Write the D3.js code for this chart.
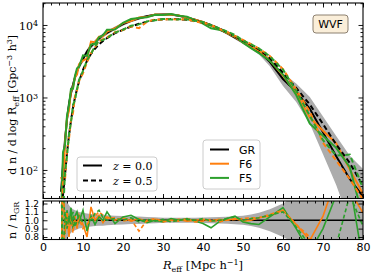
<!DOCTYPE html>
<html>
<head>
<meta charset="utf-8">
<title>Void size function</title>
<script src="https://d3js.org/d3.v7.min.js"></script>
<style>
  body { margin: 0; background: #fff; }
  svg { display: block; }
  text { font-family: "DejaVu Sans", sans-serif; fill: #000; }
  .serif { font-family: "DejaVu Serif", serif; }
</style>
</head>
<body>
<div id="chart"></div>
<script>
// bin centres [Mpc/h]
var rEff = [4.5, 5, 5.5, 6, 6.5, 7, 7.5, 8, 8.5, 9, 10, 11, 12, 13, 14, 15, 16, 18, 20, 22, 24, 26, 28, 30,
            32, 34, 36, 38, 40, 42, 44, 46, 48, 50, 52, 54, 56.7, 60, 63.3, 66.7, 70, 73.3, 76.7, 80];

// dn/dlogR  [Gpc^-3 h^3]
var grZ0 = [50, 110, 260, 500, 820, 1150, 1500, 1900, 2300, 2700, 3400, 4300, 5100, 5800, 6500, 7200, 7800, 9000,
            10300, 11400, 12400, 13200, 13800, 14000, 13900, 13400, 12700, 11800, 10900, 9900, 8800, 7700, 6700,
            5800, 5000, 4300, 3100, 1800, 1200, 700, 330, 155, 75, 43];
var grZ5 = [20, 45, 85, 170, 300, 480, 720, 1000, 1300, 1650, 2400, 3200, 4000, 4700, 5400, 6000, 6600, 7700,
            8600, 9500, 10400, 11100, 11700, 12000, 12100, 12000, 11800, 11400, 10800, 10000, 9000, 8000, 7000,
            6100, 5300, 4600, 3500, 2200, 1350, 800, 430, 225, 125, 60];
var f6Z0 = [80, 66, 234, 525, 656, 1242, 1380, 1900, 2070, 2862, 3230, 3440, 5916, 5800, 6890, 6984, 8112, 9000,
            10609, 11286, 12648, 12936, 13938, 13860, 13900, 13534, 12573, 11800, 11009, 9801, 8888, 7700, 6834,
            5742, 5000, 4429, 3255, 2016, 1140, 532, 347, 233, 101, 47];
var f6Z5 = [8, 68, 72, 187, 270, 480, 612, 1050, 1235, 1683, 2160, 3040, 4080, 4935, 5940, 6360, 6732, 7931,
            8514, 9595, 9048, 11100, 11934, 11760, 12100, 11880, 12036, 11172, 10692, 10100, 8820, 8000, 7070,
            6222, 5459, 4738, 3745, 2464, 1283, 640, 237, 135, 75, 39];
var f5Z0 = [20, 176, 218, 560, 779, 1323, 1320, 1995, 2530, 2646, 3808, 3741, 5355, 5510, 6760, 7200, 8580, 8640,
            10712, 12084, 12524, 12804, 13800, 13720, 14178, 13400, 12954, 11682, 10464, 9009, 8624, 7854, 7035,
            5684, 4800, 4085, 3224, 2070, 1080, 434, 297, 202, 109, 22];
var f5Z5 = [30, 23, 94, 153, 315, 456, 792, 920, 1300, 1733, 2328, 3264, 4000, 5076, 6048, 6180, 6600, 7854,
            8600, 9785, 10192, 11211, 11583, 12120, 11858, 12000, 11918, 11400, 11016, 9900, 9000, 8160, 7280,
            6100, 5406, 4738, 3710, 2420, 1242, 560, 258, 158, 163, 56];

// n / n_GR
var f6RatioZ0 = [1.6, 0.6, 0.9, 1.05, 0.8, 1.08, 0.92, 1.0, 0.9, 1.06, 0.95, 0.8, 1.16, 1.0, 1.06, 0.97, 1.04, 1.0,
                 1.03, 0.99, 1.02, 0.98, 1.01, 0.99, 1.0, 1.01, 0.99, 1.0, 1.01, 0.99, 1.01, 1.0, 1.02, 0.99, 1.0,
                 1.03, 1.05, 1.12, 0.95, 0.76, 1.05, 1.5, 1.35, 1.09];
var f6RatioZ5 = [0.4, 1.5, 0.85, 1.1, 0.9, 1.0, 0.85, 1.05, 0.95, 1.02, 0.9, 0.95, 1.02, 1.05, 1.1, 1.06, 1.02,
                 1.03, 0.99, 1.01, 0.87, 1.0, 1.02, 0.98, 1.0, 0.99, 1.02, 0.98, 0.99, 1.01, 0.98, 1.0, 1.01, 1.02,
                 1.03, 1.03, 1.07, 1.12, 0.95, 0.8, 0.55, 0.6, 0.6, 0.65];
var f5RatioZ0 = [0.4, 1.6, 0.84, 1.12, 0.95, 1.15, 0.88, 1.05, 1.1, 0.98, 1.12, 0.87, 1.05, 0.95, 1.04, 1.0, 1.1,
                 0.96, 1.04, 1.06, 1.01, 0.97, 1.0, 0.98, 1.02, 1.0, 1.02, 0.99, 0.96, 0.91, 0.98, 1.02, 1.05, 0.98,
                 0.96, 0.95, 1.04, 1.15, 0.9, 0.62, 0.9, 1.3, 1.45, 0.5];
var f5RatioZ5 = [1.5, 0.5, 1.1, 0.9, 1.05, 0.95, 1.1, 0.92, 1.0, 1.05, 0.97, 1.02, 1.0, 1.08, 1.12, 1.03, 1.0,
                 1.02, 1.0, 1.03, 0.98, 1.01, 0.99, 1.01, 0.98, 1.0, 1.01, 1.0, 1.02, 0.99, 1.0, 1.02, 1.04, 1.0,
                 1.02, 1.03, 1.06, 1.1, 0.92, 0.7, 0.6, 0.7, 1.3, 0.93];

// GR z=0 scatter, as a ratio
var bandLo = [0.3, 0.55, 0.7, 0.78, 0.82, 0.85, 0.87, 0.88, 0.89, 0.9, 0.91, 0.92, 0.925, 0.93, 0.935, 0.935, 0.94,
              0.945, 0.95, 0.955, 0.955, 0.96, 0.965, 0.97, 0.97, 0.97, 0.97, 0.97, 0.968, 0.965, 0.962, 0.958,
              0.952, 0.945, 0.93, 0.91, 0.87, 0.8, 0.72, 0.62, 0.5, 0.4, 0.25, 0.1];
var bandHi = [1.9, 1.5, 1.3, 1.22, 1.18, 1.15, 1.13, 1.12, 1.11, 1.1, 1.09, 1.08, 1.075, 1.07, 1.065, 1.065, 1.06,
              1.055, 1.05, 1.045, 1.045, 1.04, 1.035, 1.03, 1.03, 1.03, 1.03, 1.03, 1.032, 1.035, 1.038, 1.042,
              1.048, 1.055, 1.07, 1.09, 1.13, 1.2, 1.3, 1.45, 1.65, 1.9, 2.1, 2.4];

var xTicks = [0, 10, 20, 30, 40, 50, 60, 70, 80];
var xMinor = d3.range(0, 81, 2);
var logTicks = [100, 1000, 10000];
var logMinor = [50, 60, 70, 80, 90, 200, 300, 400, 500, 600, 700, 800, 900,
                2000, 3000, 4000, 5000, 6000, 7000, 8000, 9000, 20000];
var ratioTicks = [0.8, 0.9, 1.0, 1.1, 1.2];

var colors = {GR: "#000000", F6: "#ff7f0e", F5: "#2ca02c"};

var width = 374, height = 276;
var left = 43, right = 363;
var mainTop = 3, mainBottom = 198.5, ratioTop = 201, ratioBottom = 239.5;

var x = d3.scaleLinear().domain([0, 80]).range([left, right]);
var y = d3.scaleLog().domain([40.4, 20100]).range([mainBottom, mainTop]);
var yr = d3.scaleLinear().domain([0.77, 1.23]).range([ratioBottom, ratioTop]);

var svg = d3.select("#chart").append("svg")
    .attr("width", width)
    .attr("height", height);

var defs = svg.append("defs");
defs.append("clipPath").attr("id", "clipMain").append("rect")
    .attr("x", left).attr("y", mainTop).attr("width", right - left).attr("height", mainBottom - mainTop);
defs.append("clipPath").attr("id", "clipRatio").append("rect")
    .attr("x", left).attr("y", ratioTop).attr("width", right - left).attr("height", ratioBottom - ratioTop);

// ---------- main panel ----------
var gMain = svg.append("g").attr("clip-path", "url(#clipMain)");

gMain.append("path")
    .datum(rEff)
    .attr("d", d3.area()
        .x(function(d) { return x(d); })
        .y0(function(d, i) { return y(grZ0[i] * bandLo[i]); })
        .y1(function(d, i) { return y(grZ0[i] * bandHi[i]); }))
    .attr("fill", "gray")
    .attr("opacity", 0.65);

var mainLines = [
  {vals: grZ0, c: colors.GR, dash: null},
  {vals: f6Z0, c: colors.F6, dash: null},
  {vals: f5Z0, c: colors.F5, dash: null},
  {vals: grZ5, c: colors.GR, dash: "5,3"},
  {vals: f6Z5, c: colors.F6, dash: "5,3"},
  {vals: f5Z5, c: colors.F5, dash: "5,3"}
];

mainLines.forEach(function(s) {
  gMain.append("path")
    .datum(rEff)
    .attr("d", d3.line()
        .x(function(d) { return x(d); })
        .y(function(d, i) { return y(s.vals[i]); }))
    .attr("fill", "none")
    .attr("stroke", s.c)
    .attr("stroke-width", 2)
    .attr("stroke-dasharray", s.dash);
});

// ---------- ratio panel ----------
var gRatio = svg.append("g").attr("clip-path", "url(#clipRatio)");

gRatio.append("path")
    .datum(rEff)
    .attr("d", d3.area()
        .x(function(d) { return x(d); })
        .y0(function(d, i) { return yr(bandLo[i]); })
        .y1(function(d, i) { return yr(bandHi[i]); }))
    .attr("fill", "gray")
    .attr("opacity", 0.65);

gRatio.append("path")
    .datum(rEff)
    .attr("d", d3.line().x(function(d) { return x(d); }).y(function() { return yr(1); }))
    .attr("fill", "none")
    .attr("stroke", "#000")
    .attr("stroke-width", 1.6);

var ratioLines = [
  {vals: f6RatioZ0, c: colors.F6, dash: null},
  {vals: f5RatioZ0, c: colors.F5, dash: null},
  {vals: f6RatioZ5, c: colors.F6, dash: "4,2.5"},
  {vals: f5RatioZ5, c: colors.F5, dash: "4,2.5"}
];

ratioLines.forEach(function(s) {
  gRatio.append("path")
    .datum(rEff)
    .attr("d", d3.line()
        .x(function(d) { return x(d); })
        .y(function(d, i) { return yr(s.vals[i]); }))
    .attr("fill", "none")
    .attr("stroke", s.c)
    .attr("stroke-width", 1.6)
    .attr("stroke-dasharray", s.dash);
});

// ---------- axes (ticks point inwards) ----------
function addAxis(axis, tx, ty) {
  var g = svg.append("g").attr("transform", "translate(" + tx + "," + ty + ")").call(axis);
  g.select(".domain").remove();
  g.selectAll("line").attr("stroke", "#000").attr("stroke-width", 0.9);
  return g;
}
function noLabels(a) { return a.tickFormat(""); }

// main panel x
addAxis(noLabels(d3.axisBottom(x).tickValues(xTicks).tickSize(-4.5)), 0, mainBottom);
addAxis(noLabels(d3.axisBottom(x).tickValues(xMinor).tickSize(-2.5)), 0, mainBottom);
addAxis(noLabels(d3.axisTop(x).tickValues(xTicks).tickSize(-4.5)), 0, mainTop);
addAxis(noLabels(d3.axisTop(x).tickValues(xMinor).tickSize(-2.5)), 0, mainTop);

// main panel y (log)
var gy = addAxis(d3.axisLeft(y).tickValues(logTicks).tickSize(-4.5).tickPadding(5).tickFormat(""), left, 0);
gy.selectAll(".tick text").each(function(d) {
  var t = d3.select(this).attr("class", "serif").attr("font-size", 11).attr("dy", "0.4em");
  t.append("tspan").text("10");
  t.append("tspan").attr("dy", "-0.45em").attr("font-size", 8).text(Math.round(Math.log10(d)));
});
addAxis(noLabels(d3.axisLeft(y).tickValues(logMinor).tickSize(-2.5)), left, 0);
addAxis(noLabels(d3.axisRight(y).tickValues(logTicks).tickSize(-4.5)), right, 0);
addAxis(noLabels(d3.axisRight(y).tickValues(logMinor).tickSize(-2.5)), right, 0);

// ratio panel x
var gx = addAxis(d3.axisBottom(x).tickValues(xTicks).tickSize(-4.5).tickPadding(4), 0, ratioBottom);
gx.selectAll(".tick text").attr("font-size", 11).attr("font-family", "DejaVu Sans");
addAxis(noLabels(d3.axisBottom(x).tickValues(xMinor).tickSize(-2.5)), 0, ratioBottom);
addAxis(noLabels(d3.axisTop(x).tickValues(xTicks).tickSize(-4.5)), 0, ratioTop);
addAxis(noLabels(d3.axisTop(x).tickValues(xMinor).tickSize(-2.5)), 0, ratioTop);

// ratio panel y
var gyr = addAxis(d3.axisLeft(yr).tickValues(ratioTicks).tickSize(-4.5).tickPadding(4).tickFormat(d3.format(".1f")), left, 0);
gyr.selectAll(".tick text").attr("font-size", 9).attr("font-family", "DejaVu Sans");
addAxis(noLabels(d3.axisRight(yr).tickValues(ratioTicks).tickSize(-4.5)), right, 0);

// frames
svg.append("rect").attr("x", left).attr("y", mainTop).attr("width", right - left).attr("height", mainBottom - mainTop)
    .attr("fill", "none").attr("stroke", "#000").attr("stroke-width", 1.1);
svg.append("rect").attr("x", left).attr("y", ratioTop).attr("width", right - left).attr("height", ratioBottom - ratioTop)
    .attr("fill", "none").attr("stroke", "#000").attr("stroke-width", 1.1);

// ---------- axis labels ----------
var xl = svg.append("text").attr("class", "serif").attr("font-size", 11.5)
    .attr("x", (left + right) / 2).attr("y", 269).attr("text-anchor", "middle");
xl.append("tspan").attr("font-style", "italic").text("R");
xl.append("tspan").attr("font-size", 8).attr("dy", 2.5).text("eff");
xl.append("tspan").attr("dy", -2.5).text("  [Mpc h");
xl.append("tspan").attr("font-size", 8).attr("dy", -4).text("\u22121");
xl.append("tspan").attr("dy", 4).text("]");

var yl = svg.append("text").attr("class", "serif").attr("font-size", 11)
    .attr("transform", "translate(16," + ((mainTop + mainBottom) / 2 + 4) + ") rotate(-90)")
    .attr("text-anchor", "middle");
yl.append("tspan").text("d n / d log R");
yl.append("tspan").attr("font-size", 8).attr("dy", 2.5).text("eff");
yl.append("tspan").attr("dy", -2.5).text("  [Gpc");
yl.append("tspan").attr("font-size", 8).attr("dy", -4).text("\u22123");
yl.append("tspan").attr("dy", 4).text(" h");
yl.append("tspan").attr("font-size", 8).attr("dy", -4).text("3");
yl.append("tspan").attr("dy", 4).text("]");

var yl2 = svg.append("text").attr("class", "serif").attr("font-size", 11)
    .attr("transform", "translate(16," + ((ratioTop + ratioBottom) / 2) + ") rotate(-90)")
    .attr("text-anchor", "middle");
yl2.append("tspan").text("n / n");
yl2.append("tspan").attr("font-size", 8).attr("dy", 2.5).text("GR");

// ---------- legends ----------
var leg1 = svg.append("g").attr("transform", "translate(77,157)");
leg1.append("rect").attr("width", 80).attr("height", 34).attr("rx", 3)
    .attr("fill", "#fff").attr("fill-opacity", 0.8).attr("stroke", "#ccc");
[{label: "0.0", dash: null}, {label: "0.5", dash: "5,3"}].forEach(function(d, i) {
  var yy = 8.5 + i * 15;
  leg1.append("line").attr("x1", 6).attr("x2", 25).attr("y1", yy).attr("y2", yy)
      .attr("stroke", "#000").attr("stroke-width", 2).attr("stroke-dasharray", d.dash);
  var t = leg1.append("text").attr("class", "serif").attr("font-size", 11)
      .attr("x", 36).attr("y", yy + 4);
  t.append("tspan").attr("font-style", "italic").text("z");
  t.append("tspan").text(" = " + d.label);
});

var leg2 = svg.append("g").attr("transform", "translate(203,140)");
leg2.append("rect").attr("width", 57).attr("height", 49).attr("rx", 3)
    .attr("fill", "#fff").attr("fill-opacity", 0.8).attr("stroke", "#ccc");
["GR", "F6", "F5"].forEach(function(k, i) {
  var yy = 9.5 + i * 14.2;
  leg2.append("line").attr("x1", 7).attr("x2", 26).attr("y1", yy).attr("y2", yy)
      .attr("stroke", colors[k]).attr("stroke-width", 2);
  leg2.append("text").attr("font-size", 11).attr("x", 36).attr("y", yy + 4).text(k);
});

// WVF tag
var tag = svg.append("g").attr("transform", "translate(313,15)");
tag.append("rect").attr("width", 35).attr("height", 18).attr("rx", 3)
    .attr("fill", "#f5deb3").attr("fill-opacity", 0.5).attr("stroke", "#8c8070");
tag.append("text").attr("font-size", 11).attr("x", 17.5).attr("y", 13).attr("text-anchor", "middle").text("WVF");
</script>
</body>
</html>
